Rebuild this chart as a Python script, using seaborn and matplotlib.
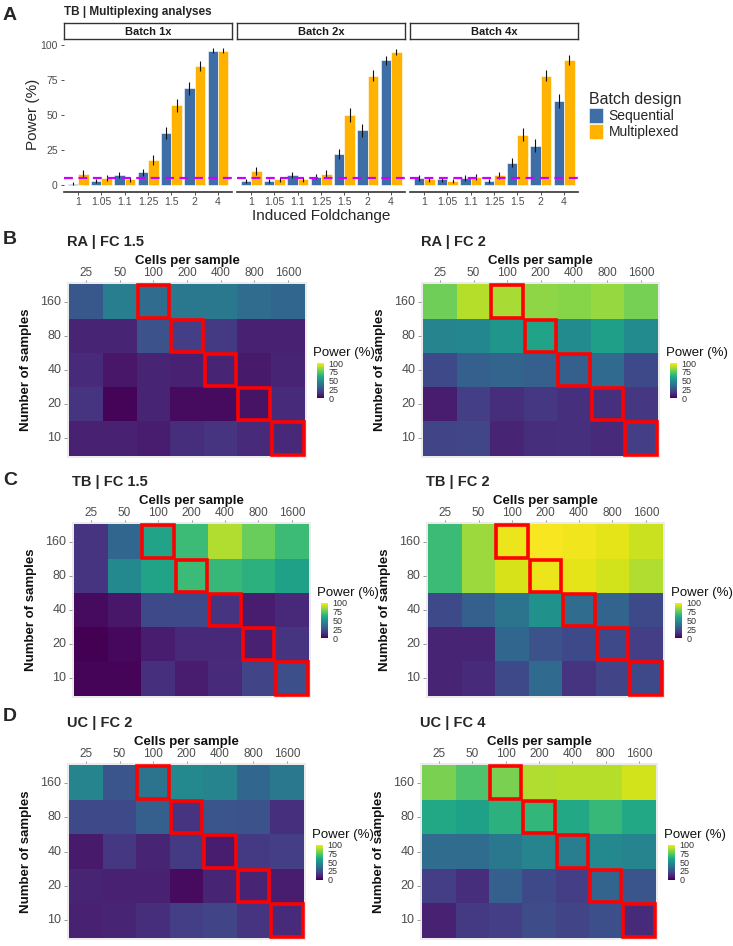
import numpy as np
import pandas as pd
import matplotlib
matplotlib.use("Agg")
import matplotlib.pyplot as plt
from matplotlib.patches import Rectangle
import seaborn as sns

# ---------------- data ----------------
foldchanges = ["1", "1.05", "1.1", "1.25", "1.5", "2", "4"]
batches = ["Batch 1x", "Batch 2x", "Batch 4x"]
designs = ["Sequential", "Multiplexed"]

seq_1x = [1, 3, 7, 9, 37, 69, 96]
mul_1x = [8, 5, 4, 18, 57, 85, 96]
seq_2x = [3, 3, 7, 6, 22, 39, 89]
mul_2x = [10, 4, 4, 8, 50, 78, 95]
seq_4x = [5, 4, 5, 3, 16, 28, 60]
mul_4x = [4, 3, 6, 7, 36, 78, 89]

err_seq_1x = [1, 1.5, 2.2, 2.5, 4.5, 4.5, 2]
err_mul_1x = [2.8, 2.2, 2, 3.5, 4.7, 3.5, 2]
err_seq_2x = [1.5, 1.5, 2.2, 2, 3.8, 4.8, 3]
err_mul_2x = [3, 2, 2, 2.8, 5, 4, 2]
err_seq_4x = [2, 2, 2, 1.5, 3.5, 4.5, 4.8]
err_mul_4x = [2, 1.5, 2.2, 2.5, 4.5, 4, 3.5]

alpha_level = 5

cells = ["25", "50", "100", "200", "400", "800", "1600"]
samples = ["160", "80", "40", "20", "10"]
highlight = [("160", "100"), ("80", "200"), ("40", "400"), ("20", "800"), ("10", "1600")]

ra_fc15 = [[27, 42, 35, 40, 40, 35, 33],
           [10, 10, 25, 18, 17, 9, 9],
           [12, 6, 10, 9, 10, 7, 10],
           [15, 1, 10, 3, 3, 5, 12],
           [9, 9, 8, 13, 15, 12, 11]]
ra_fc2 = [[78, 89, 87, 83, 82, 84, 79],
          [45, 46, 52, 58, 48, 56, 48],
          [22, 30, 32, 30, 30, 34, 22],
          [8, 18, 13, 16, 14, 14, 16],
          [20, 21, 10, 13, 14, 12, 18]]
tb_fc15 = [[15, 33, 58, 68, 88, 77, 68],
           [15, 47, 58, 68, 67, 64, 57],
           [3, 6, 22, 22, 15, 8, 11],
           [0, 2, 8, 11, 11, 9, 15],
           [1, 1, 14, 8, 12, 20, 24]]
tb_fc2 = [[68, 85, 97, 99, 98, 96, 92],
          [68, 85, 94, 97, 96, 93, 88],
          [22, 30, 38, 50, 35, 32, 22],
          [10, 10, 33, 25, 22, 22, 18],
          [10, 12, 22, 34, 15, 20, 22]]
uc_fc2 = [[45, 26, 38, 47, 45, 33, 40],
          [22, 22, 30, 15, 26, 25, 14],
          [7, 16, 10, 17, 8, 17, 18],
          [10, 9, 9, 3, 10, 10, 8],
          [9, 10, 13, 18, 20, 15, 12]]
uc_fc4 = [[80, 72, 80, 88, 89, 89, 93],
          [60, 57, 64, 66, 60, 67, 60],
          [35, 35, 40, 45, 42, 47, 45],
          [18, 13, 30, 22, 18, 32, 26],
          [9, 17, 18, 23, 20, 24, 12]]

# ---------------- style ----------------
sns.set_theme(style="white")
plt.rcParams["font.family"] = ["Liberation Sans", "DejaVu Sans"]

W, H = 733, 946
fig = plt.figure(figsize=(W / 100, H / 100), dpi=100)


def rect(x0, y0, x1, y1):
    return [x0 / W, 1 - y1 / H, (x1 - x0) / W, (y1 - y0) / H]


def ftext(x, y, s, **kw):
    fig.text(x / W, 1 - y / H, s, **kw)


GREY = "#4d4d4d"
SEQ_C = "#3d6ea8"
MUL_C = "#ffb300"

# ---------------- panel A ----------------
seq_all = [seq_1x, seq_2x, seq_4x]
mul_all = [mul_1x, mul_2x, mul_4x]
eseq_all = [err_seq_1x, err_seq_2x, err_seq_4x]
emul_all = [err_mul_1x, err_mul_2x, err_mul_4x]

rows = []
for b, s, m, es, em in zip(batches, seq_all, mul_all, eseq_all, emul_all):
    for fc, sv, mv, esv, emv in zip(foldchanges, s, m, es, em):
        rows.append(dict(batch=b, fc=fc, design="Sequential", power=sv, err=esv))
        rows.append(dict(batch=b, fc=fc, design="Multiplexed", power=mv, err=emv))
dfA = pd.DataFrame(rows)

panel_x = [(64, 232), (237, 405), (410, 578)]
handles = None
for i, (b, (x0, x1)) in enumerate(zip(batches, panel_x)):
    ax = fig.add_axes(rect(x0, 40, x1, 192))
    sub = dfA[dfA.batch == b]
    sns.barplot(data=sub, x="fc", y="power", hue="design", order=foldchanges,
                hue_order=designs, palette=[SEQ_C, MUL_C], saturation=1, errorbar=None,
                width=0.9, edgecolor="white", linewidth=0.4, ax=ax)
    for cont, d in zip(ax.containers, designs):
        errs = sub[sub.design == d].set_index("fc").loc[foldchanges, "err"].values
        xs = [p.get_x() + p.get_width() / 2 for p in cont.patches]
        hs = [p.get_height() for p in cont.patches]
        ax.errorbar(xs, hs, yerr=errs, fmt="none", ecolor="#111111", elinewidth=0.8, capsize=0)
    ax.axhline(alpha_level, color="#cc00ff", lw=1.6, ls=(0, (4, 2.5)), zorder=5)
    ax.set_xlim(-0.6, 6.6)
    ax.set_ylim(-5, 103.5)
    ax.set_yticks([0, 25, 50, 75, 100])
    ax.set_xlabel("")
    ax.set_ylabel("")
    if handles is None:
        handles, labels = ax.get_legend_handles_labels()
    ax.get_legend().remove()
    for sp in ["top", "right", "left"]:
        ax.spines[sp].set_visible(False)
    ax.spines["bottom"].set_color("#333333")
    ax.spines["bottom"].set_linewidth(1.2)
    ax.tick_params(axis="x", length=2.5, width=0.6, color="#333333", labelsize=7.5,
                   labelcolor=GREY, pad=1, bottom=True)
    ax.tick_params(axis="y", length=2.5, width=0.6, color="#333333", labelsize=7.5,
                   labelcolor=GREY, pad=2, left=(i == 0), labelleft=(i == 0))
    ax.set_facecolor("white")
    # strip
    sax = fig.add_axes(rect(x0, 23, x1, 39))
    sax.set_xticks([]); sax.set_yticks([])
    sax.set_facecolor("white")
    for sp in sax.spines.values():
        sp.set_color("#333333"); sp.set_linewidth(1.0); sp.set_visible(True)
    sax.text(0.5, 0.45, b, ha="center", va="center", fontsize=8, fontweight="bold",
             color="#1a1a1a", transform=sax.transAxes)

ftext(3, 16, "A", fontsize=14, fontweight="bold", va="center", ha="left")
ftext(64, 12, "TB | Multiplexing analyses", fontsize=8.5, fontweight="bold", va="center")
ftext(33, 114, "Power (%)", fontsize=11, rotation=90, va="center", ha="center")
ftext(321, 216, "Induced Foldchange", fontsize=11, va="center", ha="center")
fig.legend(handles, labels, title="Batch design", loc="upper left",
           bbox_to_anchor=(589 / W, 1 - 92 / H), frameon=False, fontsize=10,
           title_fontsize=11.5, handlelength=1.0, handleheight=1.3,
           handletextpad=0.4, labelspacing=0.05, alignment="left",
           borderpad=0, borderaxespad=0)

# ---------------- heatmaps ----------------
panels = [
    ("B", "RA | FC 1.5", ra_fc15, (67, 282, 307, 458), 240),
    (None, "RA | FC 2", ra_fc2, (421, 282, 660, 458), None),
    ("C", "TB | FC 1.5", tb_fc15, (72, 522, 311, 698), 480),
    (None, "TB | FC 2", tb_fc2, (426, 522, 665, 698), None),
    ("D", "UC | FC 2", uc_fc2, (67, 763, 306, 940), 716),
    (None, "UC | FC 4", uc_fc4, (420, 763, 658, 940), None),
]

for letter, title, vals, (x0, y0, x1, y1), ly in panels:
    df = pd.DataFrame(vals, index=samples, columns=cells)
    ax = fig.add_axes(rect(x0, y0, x1, y1))
    cy = (y0 + y1) / 2
    cax = fig.add_axes(rect(x1 + 10, cy - 7, x1 + 17, cy + 28))
    sns.heatmap(df, cmap="viridis", vmin=0, vmax=100, ax=ax, cbar_ax=cax,
                linewidths=0, square=False)
    for r, c in highlight:
        ri = samples.index(r)
        ci = cells.index(c)
        ax.add_patch(Rectangle((ci + 0.03, ri + 0.03), 0.94, 0.94, fill=False,
                               edgecolor="#ff0000", lw=2.6, zorder=10, clip_on=False))
    ax.set_xlim(-0.07, len(cells) + 0.07)
    ax.set_ylim(len(samples) + 0.07, -0.07)
    ax.set_facecolor("#ebebeb")
    ax.xaxis.tick_top()
    ax.xaxis.set_label_position("top")
    ax.set_xlabel("Cells per sample", fontsize=9.5, fontweight="bold", labelpad=1.5,
                  color="#111111")
    ax.set_ylabel("Number of samples", fontsize=9.5, fontweight="bold", labelpad=6,
                  color="#111111")
    ax.tick_params(axis="x", top=True, bottom=False, length=1.5, width=0.6, color="#888888",
                   labelsize=8.5, labelcolor=GREY, pad=1.0, rotation=0)
    ax.tick_params(axis="y", left=True, length=2, width=0.6, color="#888888",
                   labelsize=9, labelcolor=GREY, pad=2, rotation=0)
    for sp in ax.spines.values():
        sp.set_visible(False)
    # colorbar
    cb = ax.collections[0].colorbar
    cb.set_ticks([0, 25, 50, 75, 100])
    cb.outline.set_visible(False)
    cax.tick_params(labelsize=6.5, length=0, pad=3, labelcolor="#333333")
    ftext(x1 + 6, cy - 17, "Power (%)", fontsize=9.5, va="center", ha="left", color="#111111")
    # titles
    ftext(x0, y0 - 40, title, fontsize=10.5, fontweight="bold", va="center", ha="left")
    if letter:
        ftext(3, ly, letter, fontsize=14, fontweight="bold", va="center", ha="left")

fig.savefig("out.png", dpi=100, facecolor="white")
